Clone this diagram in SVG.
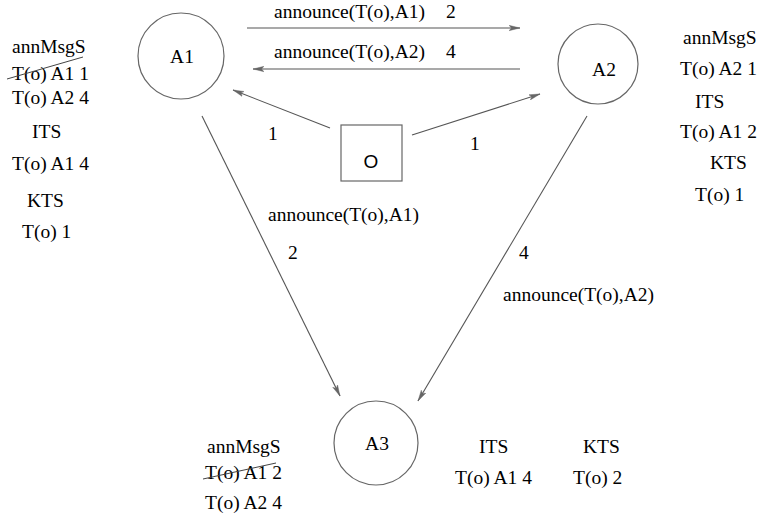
<svg xmlns="http://www.w3.org/2000/svg" width="762" height="520" viewBox="0 0 762 520">
<defs>
<style>
.t{font-family:"Liberation Serif","Times New Roman",serif;font-size:19.5px;fill:#000}
.s{font-family:"Liberation Sans",Arial,sans-serif;font-size:19px;fill:#000}
.n{fill:none;stroke:#666;stroke-width:1.2}
.e{fill:none;stroke:#555;stroke-width:1.1}
.k{fill:none;stroke:#444;stroke-width:1}
</style>
<marker id="ah" viewBox="0 0 11 7" refX="11" refY="3.5" markerWidth="11" markerHeight="7" markerUnits="userSpaceOnUse" orient="auto">
<path d="M0,0.8 L11,3.5 L0,6.2 L2.5,3.5 Z" fill="#666" stroke="#666" stroke-width="0.4"/>
</marker>
</defs>
<rect width="762" height="520" fill="#fff"/>
<g id="connectors">
<line class="e" x1="247" y1="28" x2="520" y2="28" marker-end="url(#ah)"/>
<line class="e" x1="520" y1="69" x2="253" y2="69" marker-end="url(#ah)"/>
<line class="e" x1="330" y1="128" x2="233" y2="90" marker-end="url(#ah)"/>
<line class="e" x1="412" y1="135" x2="540" y2="94" marker-end="url(#ah)"/>
<line class="e" x1="202" y1="116" x2="340" y2="396" marker-end="url(#ah)"/>
<line class="e" x1="587" y1="116" x2="418" y2="401" marker-end="url(#ah)"/>
<text class="t" x="274" y="18">announce(T(o),A1)</text>
<text class="t" x="446" y="18">2</text>
<text class="t" x="274" y="58">announce(T(o),A2)</text>
<text class="t" x="446" y="58">4</text>
<text class="t" x="268" y="140">1</text>
<text class="t" x="470" y="150">1</text>
<text class="t" x="268" y="221">announce(T(o),A1)</text>
<text class="t" x="288" y="259">2</text>
<text class="t" x="519" y="259">4</text>
<text class="t" x="503" y="301">announce(T(o),A2)</text>
</g>
<g id="A1">
<circle class="n" cx="181" cy="56" r="43"/>
<text class="t" x="182" y="63" text-anchor="middle">A1</text>
</g>
<g id="A2">
<circle class="n" cx="598" cy="64" r="40"/>
<text class="t" x="604" y="76" text-anchor="middle">A2</text>
</g>
<g id="A3">
<circle class="n" cx="376" cy="443" r="42"/>
<text class="t" x="377" y="450" text-anchor="middle">A3</text>
</g>
<g id="O">
<rect class="n" x="341" y="125" width="61" height="56"/>
<text class="s" x="371" y="168" text-anchor="middle">O</text>
</g>
<g id="A1-tables">
<text class="t" x="12" y="53">annMsgS</text>
<text class="t" x="12" y="80">T(o) A1 1</text>
<line class="k" x1="7" y1="79" x2="83" y2="57"/>
<text class="t" x="12" y="104">T(o) A2 4</text>
<text class="t" x="32" y="138">ITS</text>
<text class="t" x="12" y="170">T(o) A1 4</text>
<text class="t" x="27" y="207">KTS</text>
<text class="t" x="22" y="238">T(o) 1</text>
</g>
<g id="A2-tables">
<text class="t" x="683" y="44">annMsgS</text>
<text class="t" x="680" y="75">T(o) A2 1</text>
<text class="t" x="695" y="108">ITS</text>
<text class="t" x="680" y="138">T(o) A1 2</text>
<text class="t" x="710" y="169">KTS</text>
<text class="t" x="695" y="201">T(o) 1</text>
</g>
<g id="A3-tables">
<text class="t" x="207" y="453">annMsgS</text>
<text class="t" x="205" y="479">T(o) A1 2</text>
<line class="k" x1="203" y1="479" x2="276" y2="463"/>
<text class="t" x="205" y="509">T(o) A2 4</text>
<text class="t" x="479" y="453">ITS</text>
<text class="t" x="455" y="484">T(o) A1 4</text>
<text class="t" x="583" y="453">KTS</text>
<text class="t" x="573" y="484">T(o) 2</text>
</g>
</svg>
